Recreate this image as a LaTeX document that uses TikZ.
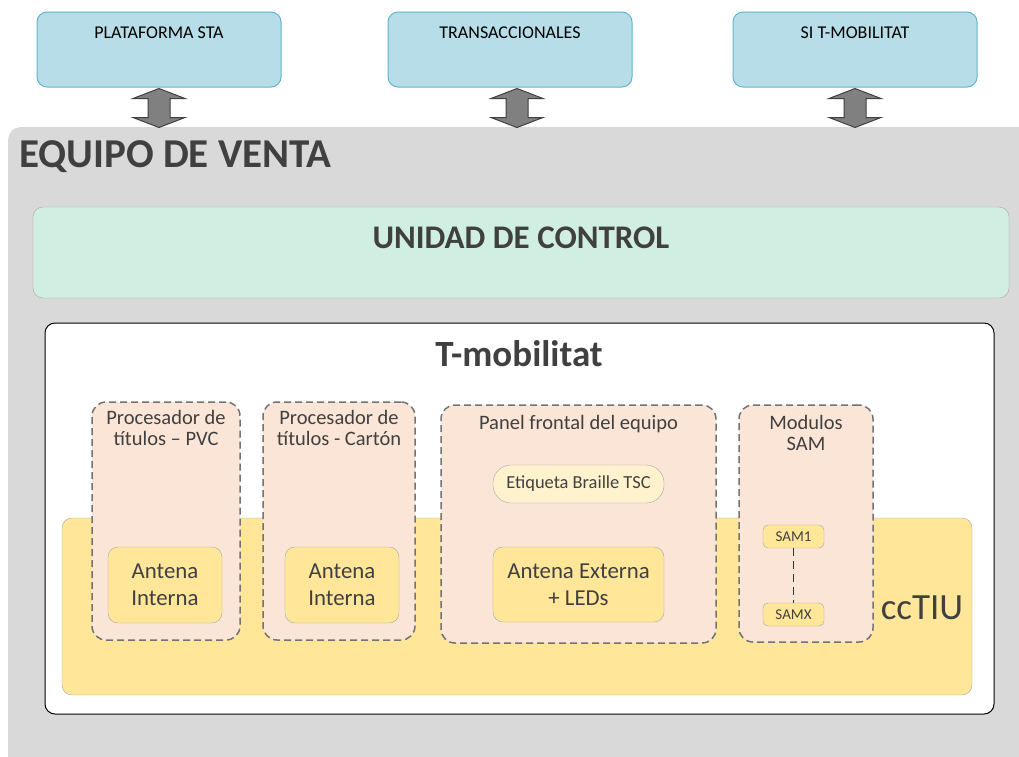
\documentclass[tikz,border=0pt]{standalone}
\usepackage{fontspec}
\setmainfont{Carlito}
\usepackage{tikz}
\usetikzlibrary{positioning}
\usetikzlibrary{calc}
\definecolor{mtop}{RGB}{183, 222, 232}
\definecolor{mtopline}{RGB}{100, 180, 205}
\definecolor{mgray}{RGB}{217, 217, 217}
\definecolor{mmint}{RGB}{208, 238, 226}
\definecolor{myellow}{RGB}{255, 230, 153}
\definecolor{mpeach}{RGB}{251, 229, 214}
\definecolor{mcream}{RGB}{255, 242, 204}
\definecolor{mtext}{RGB}{64, 64, 64}
\definecolor{mline}{RGB}{166, 166, 166}
\tikzset{topbox/.style = {draw = mtopline, fill = mtop, line width = 1, rounded corners = 10, minimum width = 244, minimum height = 75}}
\tikzset{toptext/.style = {anchor = north, inner sep = 0, font = \fontsize{18}{21}\selectfont}}
\tikzset{dblarrow/.style = {draw = black!75, fill = gray, line width = 1}}
\tikzset{dashbox/.style = {draw = black!55, fill = mpeach, line width = 1.5, dash pattern = on 7 off 4, rounded corners = 14}}
\tikzset{dashtext/.style = {anchor = north, inner sep = 0, align = center, text = mtext, font = \fontsize{20.5}{21}\selectfont}}
\tikzset{ybox/.style = {draw = mline, fill = myellow, rounded corners = 10, align = center, text = mtext, inner sep = 0, font = \fontsize{22.8}{27}\selectfont}}
\tikzset{sambox/.style = {draw = mline, fill = myellow, rounded corners = 5, minimum width = 61, minimum height = 23, inner sep = 0, text = mtext, font = \fontsize{15}{17}\selectfont}}

\begin{document}
\begin{tikzpicture}[x = 1pt, y = -1pt]
    \clip (0, 0) rectangle (1019, 756);
    \fill [white] (0, 0) rectangle (1019, 756);

    % equipo de venta
    \node [fill = mgray, rounded corners = 12, minimum width = 1040, minimum height = 660, anchor = north west] (equipo) at (8, 127) {};
    \node [anchor = west, inner sep = 0, text = mtext, font = \fontsize{41}{48}\bfseries] (equipotext) at (19, 157) {EQUIPO DE VENTA};

    % sistemas externos
    \node [topbox] (sta) at (159, 49.5) {};
    \node [topbox] (trans) at (510, 49.5) {};
    \node [topbox] (simob) at (855, 49.5) {};
    \node [toptext] at ($(sta.north) + (0, 15)$) {PLATAFORMA STA};
    \node [toptext] at ($(trans.north) + (0, 15)$) {TRANSACCIONALES};
    \node [toptext] at ($(simob.north) + (0, 15)$) {SI T-MOBILITAT};

    \foreach \n/\dx in {sta/0, trans/7, simob/0} {
      \draw [dblarrow] ($(\n.south) + (\dx, 1)$) -- ++(26, 10) -- ++(-15, 0) -- ++(0, 19)
        -- ++(15, 0) -- ++(-26, 10) -- ++(-26, -10) -- ++(15, 0) -- ++(0, -19) -- ++(-15, 0) -- cycle;
    }

    % unidad de control
    \node [draw = mline, fill = mmint, rounded corners = 10, minimum width = 976, minimum height = 91] (uc) at (521, 252.5) {};
    \node [inner sep = 0, text = mtext, font = \fontsize{33}{38}\bfseries] at (521, 238) {UNIDAD DE CONTROL};

    % t-mobilitat
    \node [draw = black, fill = white, line width = 1, rounded corners = 10, minimum width = 949, minimum height = 391] (tmob) at (519.5, 518.5) {};
    \node [inner sep = 0, text = mtext, font = \fontsize{37}{42}\bfseries] at (519, 354) {T-mobilitat};

    % cctiu
    \node [draw = mline, fill = myellow, rounded corners = 10, minimum width = 910, minimum height = 177] (cctiu) at (517, 606.5) {};
    \node [inner sep = 0, text = mtext, font = \fontsize{37}{44}\selectfont] at (922, 608) {ccTIU};

    % bloques
    \node [dashbox, minimum width = 148, minimum height = 238] (pvc) at (166, 521) {};
    \node [dashbox, minimum width = 152, minimum height = 238] (carton) at (339, 521) {};
    \node [dashbox, minimum width = 275, minimum height = 238] (panel) at (578.5, 524) {};
    \node [dashbox, minimum width = 134, minimum height = 237] (sam) at (806, 523.5) {};
    \node [dashtext] at ($(pvc.north) + (0, 9)$) {Procesador de\\títulos – PVC};
    \node [dashtext] at ($(carton.north) + (0, 9)$) {Procesador de\\títulos - Cartón};
    \node [dashtext] at ($(panel.north) + (0, 11)$) {Panel frontal del equipo};
    \node [dashtext] at ($(sam.north) + (0, 11)$) {Modulos\\SAM};

    \node [ybox, minimum width = 114, minimum height = 76] (ant1) at (165, 585) {Antena\\Interna};
    \node [ybox, minimum width = 114, minimum height = 76] (ant2) at (342, 585) {Antena\\Interna};
    \node [ybox, minimum width = 171, minimum height = 75] (antext) at (578.5, 584.5) {Antena Externa\\+ LEDs};
    \node [ybox, fill = mcream, rounded corners = 18, minimum width = 171, minimum height = 38, font = \fontsize{18.4}{21}\selectfont] (braille) at (578.5, 484) {Etiqueta Braille TSC};

    \node [sambox] (sam1) at (793.5, 536.5) {SAM1};
    \node [sambox] (samx) at (793.5, 614.5) {SAMX};
    \draw [black!80, line width = 1.5, dash pattern = on 8 off 5] (sam1) -- (samx);
\end{tikzpicture}
\end{document}
